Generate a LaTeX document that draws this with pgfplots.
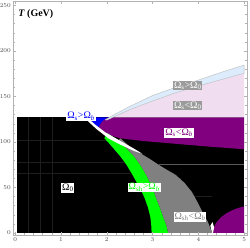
\documentclass[border=0pt]{standalone}
\usepackage{fontspec}
\setmainfont{Liberation Serif}
\usepackage{pgfplots}
\pgfplotsset{compat=1.18}
\definecolor{mpurple}{rgb}{0.5,0,0.5}
\definecolor{mblue}{rgb}{0,0,1}
\definecolor{mgreen}{rgb}{0,1,0}
\definecolor{mgray}{rgb}{0.5,0.5,0.5}
\definecolor{mpink}{RGB}{240,222,240}
\definecolor{mlblue}{RGB}{220,236,252}
\definecolor{lbox}{RGB}{155,155,155}
\definecolor{mesh}{RGB}{30,30,30}
\begin{document}
\begin{tikzpicture}
\useasboundingbox (-13.3bp,-13.2bp) rectangle (236.7bp,234.8bp);
\begin{axis}[
  scale only axis, width=233.6bp, height=233.9bp,
  xmin=-0.04, xmax=5.06, ymin=-2, ymax=255,
  xtick={0,1,2,3,4,5}, ytick={0,50,100,150,200,250},
  minor x tick num=4, minor y tick num=4,
  tick align=inside, major tick length=3bp, minor tick length=1.5bp,
  axis line style={gray!60}, tick style={gray!60, line width=0.4pt},
  tick label style={font=\fontsize{6}{7}\selectfont, text=gray!60!black},
  xticklabel style={yshift=1bp}, yticklabel style={xshift=1bp},
  axis on top,
]
% black base region
\addplot[fill=black, draw=none] coordinates {(0.04,0)(5,0)(5,127)(0.04,127)} -- cycle;
% faint mesh lines
\addplot[draw=mesh, line width=0.3pt] coordinates {(0.29,0)(0.29,127)};
\addplot[draw=mesh, line width=0.3pt] coordinates {(0.55,0)(0.55,127)};
\addplot[draw=mesh, line width=0.3pt] coordinates {(0.80,0)(0.80,127)};
\addplot[draw=mesh, line width=0.3pt] coordinates {(0.04,102)(2.0,102)};
\addplot[draw=mesh, line width=0.3pt] coordinates {(0.04,78)(2.4,78)};
\addplot[draw=mesh, line width=0.3pt] coordinates {(0.04,66)(2.5,66)};
\addplot[draw=mesh, line width=0.3pt] coordinates {(3.6,0)(3.6,60)};
\addplot[draw=mesh, line width=0.3pt] coordinates {(3.3,40)(4.3,40)};
% blue region
\addplot[fill=mblue, draw=none] coordinates {(1.55,127)(2.10,127)(2.10,106)(1.97,110.5)(1.75,119)(1.57,127)} -- cycle;
% purple band
\addplot[fill=mpurple, draw=none] coordinates {(1.83,116.5)(1.87,120.5)(1.93,123.8)(2.0,126.2)(2.08,127)(5,127)(5,92)(4.2,95)(3.5,98)(2.8,101)(2.3,104)(2.05,107.5)(1.93,111)(1.86,114)} -- cycle;
% green band
\addplot[fill=mgreen, draw=none] coordinates {(2.98,0)(2.97,10)(2.95,18)(2.90,28)(2.83,38)(2.75,47)(2.66,55)(2.55,65)(2.43,75)(2.30,84)(2.18,91)(2.06,98)(1.95,104)(2.0,110)(2.25,102)(2.35,97)(2.47,91)(2.60,84)(2.73,75)(2.85,65)(2.95,55)(3.02,47)(3.08,38)(3.16,28)(3.23,18)(3.30,9)(3.34,0)} -- cycle;
% gray region
\addplot[fill=mgray, draw=none] coordinates {(3.34,0)(3.30,9)(3.23,18)(3.16,28)(3.08,38)(3.02,47)(2.95,55)(2.85,65)(2.73,75)(2.60,84)(2.47,91)(2.35,97)(2.25,102)(2.3,104)(2.50,95)(2.69,89)(2.95,81)(3.21,72.5)(3.50,64)(3.70,55)(3.86,45)(3.98,34)(4.10,22)(4.21,12)(4.30,0)} -- cycle;
% white strip
\addplot[fill=white, draw=none] coordinates {(1.50,127)(1.78,114)(2.05,103.5)(2.30,97)(2.60,90)(2.78,87)(2.60,92.5)(2.30,101)(1.97,110.5)(1.75,119)(1.57,127)} -- cycle;
% horizontal gray line
\addplot[draw=gray!70!black, line width=1pt] coordinates {(3.15,75.5)(5,75.5)};
% lower-right purple blob
\addplot[fill=mpurple, draw=none] coordinates {(4.32,0)(4.35,7.4)(4.40,12.0)(4.50,17.5)(4.60,21.2)(4.70,24.0)(4.80,26.2)(4.90,27.9)(5.0,29.2)(5.0,0)} -- cycle;
\addplot[fill=white, draw=none] coordinates {(4.30,0)(4.26,8)(4.31,12)(4.345,6)(4.32,0)} -- cycle;
% pink region
\addplot[fill=mpink, draw=none] coordinates {(2.15,127)(5,127)(5,175.5)(4.5,168.5)(4.0,161.5)(3.5,154)(3.0,145)(2.5,135.5)(2.2,128.5)} -- cycle;
% light blue band
\addplot[fill=mlblue, draw=gray!55, line width=0.4pt] coordinates {(1.97,124.5)(2.2,131)(2.5,139)(3.0,151)(3.5,160)(4.0,168)(4.5,176.5)(5.0,184.5)(5.0,175.5)(4.5,168.5)(4.0,161.5)(3.5,154)(3.0,145)(2.5,135.5)(2.2,128.5)(2.0,124)} -- cycle;
% labels
\node[anchor=west, font=\fontsize{10}{12}\selectfont\bfseries, inner sep=0pt] at (axis cs:0.065,240) {\textit{T} (GeV)};
\node[fill=white, inner sep=0.8pt, font=\fontsize{10}{12}\selectfont] at (axis cs:1.15,49.5) {Ω\textsubscript{0}};
\node[fill=white, inner sep=0.8pt, text=mblue, font=\fontsize{10}{12}\selectfont] at (axis cs:1.44,128.5) {Ω\textsubscript{s}>Ω\textsubscript{\textit{b}}};
\node[fill=white, inner sep=0.8pt, text=mpurple, font=\fontsize{10}{12}\selectfont] at (axis cs:3.58,110) {Ω\textsubscript{s}<Ω\textsubscript{\textit{b}}};
\node[fill=white, inner sep=0.8pt, text=mgreen, font=\fontsize{10}{12}\selectfont] at (axis cs:2.82,50) {Ω\textsubscript{sh}>Ω\textsubscript{\textit{b}}};
\node[fill=white, inner sep=0.8pt, text=mgray, font=\fontsize{10}{12}\selectfont] at (axis cs:3.82,17.6) {Ω\textsubscript{sh}<Ω\textsubscript{\textit{b}}};
\node[fill=lbox, inner sep=0.8pt, text=white, font=\fontsize{10}{12}\selectfont] at (axis cs:3.77,162) {Ω\textsubscript{s}>Ω\textsubscript{0}};
\node[fill=lbox, inner sep=0.8pt, text=white, font=\fontsize{10}{12}\selectfont] at (axis cs:3.77,140) {Ω\textsubscript{s}<Ω\textsubscript{0}};
\end{axis}
\end{tikzpicture}
\end{document}
